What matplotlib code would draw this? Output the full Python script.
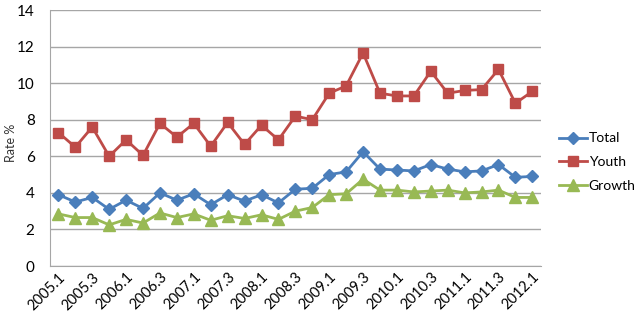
import matplotlib
matplotlib.use("Agg")
import matplotlib.pyplot as plt

plt.rcParams['font.family'] = ['Lato', 'DejaVu Sans']

# 数据
quarters = [f"{y}.{q}" for y in range(2005, 2012) for q in (1, 2, 3, 4)] + ["2012.1"]
total = [3.9, 3.5, 3.75, 3.1, 3.6, 3.15, 4.0, 3.6, 3.95, 3.35, 3.9, 3.55, 3.9, 3.45, 4.2, 4.25,
         5.0, 5.15, 6.25, 5.3, 5.25, 5.2, 5.55, 5.3, 5.15, 5.2, 5.55, 4.85, 4.9]
youth = [7.3, 6.5, 7.6, 6.0, 6.9, 6.05, 7.8, 7.05, 7.8, 6.55, 7.85, 6.65, 7.7, 6.9, 8.2, 8.0,
         9.45, 9.85, 11.65, 9.45, 9.3, 9.3, 10.65, 9.45, 9.6, 9.65, 10.75, 8.9, 9.55]
growth = [2.85, 2.65, 2.65, 2.25, 2.55, 2.35, 2.9, 2.65, 2.85, 2.5, 2.75, 2.6, 2.8, 2.55, 3.0, 3.2,
          3.9, 3.95, 4.75, 4.15, 4.15, 4.05, 4.1, 4.15, 4.0, 4.05, 4.15, 3.75, 3.75]

fig = plt.figure(figsize=(6.4, 3.18), dpi=100)
ax = fig.add_axes([0.078, 0.1635, 0.767, 0.805])

x = range(len(quarters))
ax.plot(x, total, marker="D", markersize=6.5, lw=2, color="#4A7EBB", label="Total")
ax.plot(x, youth, marker="s", markersize=6.5, lw=2, color="#BE4B48", label="Youth")
ax.plot(x, growth, marker="^", markersize=8, lw=2, color="#98B954", label="Growth")

ax.set_xlim(-0.5, len(quarters) - 0.5)
ax.set_ylim(0, 14)
ax.set_yticks(range(0, 15, 2))
ax.set_xticks(list(x)[::2])
ax.set_xticklabels(quarters[::2], rotation=45, ha="right", rotation_mode="anchor", fontsize=10.5)
ax.tick_params(axis="y", labelsize=11, length=0, pad=11)
ax.tick_params(axis="x", length=0, pad=3)
ax.set_ylabel("Rate %", fontsize=9, color="#333333", va="center")
ax.yaxis.set_label_coords(-0.08, 0.48)

ax.grid(axis="y", color="#A6A6A6", lw=1)
ax.set_axisbelow(True)
for s in ("top", "right"):
    ax.spines[s].set_visible(False)
for s in ("left", "bottom"):
    ax.spines[s].set_color("#A6A6A6")

fig.legend(loc="center left", bbox_to_anchor=(0.874, 0.49), frameon=False, fontsize=10,
           handlelength=2.0, labelspacing=0.85, handletextpad=0.1, borderaxespad=0,
           borderpad=0)

fig.savefig("out.png", dpi=100)
